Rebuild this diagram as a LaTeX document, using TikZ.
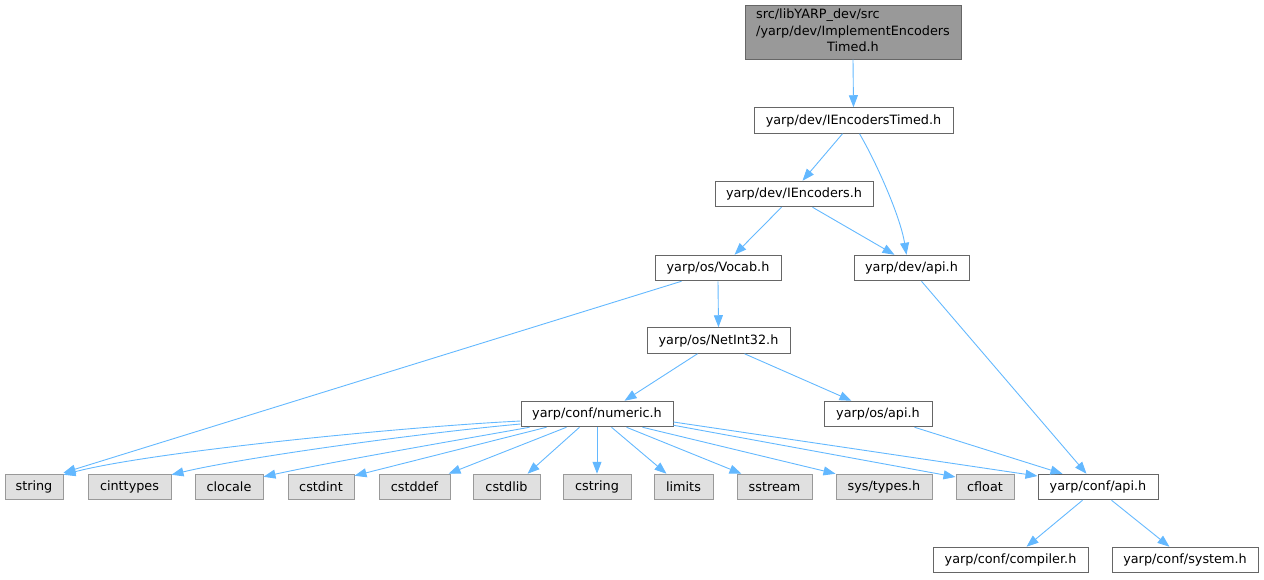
\documentclass[tikz,border=0pt]{standalone}
\usepackage{fontspec}
\setmainfont{DejaVu Sans}
\usetikzlibrary{arrows.meta,calc}
\definecolor{edgeblue}{HTML}{63B8FF}
\definecolor{boxline}{HTML}{666666}
\definecolor{leafline}{HTML}{999999}
\definecolor{leaffill}{HTML}{E0E0E0}
\definecolor{topfill}{HTML}{999999}
\begin{document}
\begin{tikzpicture}[x=1pt,y=-1pt,
  every node/.style={font=\fontsize{12.8}{15}\selectfont},
  hbox/.style={draw=boxline, fill=white, line width=1pt, inner sep=0pt, minimum height=25.5pt},
  leaf/.style={draw=leafline, fill=leaffill, line width=1pt, inner sep=0pt, minimum height=25.5pt},
  topbox/.style={draw=boxline, fill=topfill, line width=1pt, inner sep=0pt, minimum height=54pt, minimum width=216pt},
  dep/.style={draw=edgeblue, line width=0.9pt, -{Triangle[length=12pt,width=9pt]}}
]
\useasboundingbox (0,0) rectangle (1264,579);

\node[topbox, font=\fontsize{12.8}{16.5}\selectfont] (top) at (853,32) {\begin{tabular}{@{}l@{}}src/libYARP\_dev/src\\/yarp/dev/ImplementEncoders\\\multicolumn{1}{@{}c@{}}{Timed.h}\end{tabular}};
\node[hbox, minimum width=199pt] (iet) at (853.5,120.5) {yarp/dev/IEncodersTimed.h};
\node[hbox, minimum width=158pt] (ie) at (794,194) {yarp/dev/IEncoders.h};
\node[hbox, minimum width=126pt] (vocab) at (718,268) {yarp/os/Vocab.h};
\node[hbox, minimum width=115pt] (devapi) at (911.5,268) {yarp/dev/api.h};
\node[hbox, minimum width=143pt] (netint) at (718.5,340.5) {yarp/os/NetInt32.h};
\node[hbox, minimum width=152pt] (numeric) at (597,414) {yarp/conf/numeric.h};
\node[hbox, minimum width=108pt] (osapi) at (878,414) {yarp/os/api.h};

\node[leaf, minimum width=58pt] (string) at (34,487) {string};
\node[leaf, minimum width=83pt] (cinttypes) at (129.5,487) {cinttypes};
\node[leaf, minimum width=68pt] (clocale) at (229,487) {clocale};
\node[leaf, minimum width=66pt] (cstdint) at (321,487) {cstdint};
\node[leaf, minimum width=71pt] (cstddef) at (414.5,487) {cstddef};
\node[leaf, minimum width=67pt] (cstdlib) at (506.5,487) {cstdlib};
\node[leaf, minimum width=68pt] (cstring) at (597,487) {cstring};
\node[leaf, minimum width=59pt] (limits) at (683.5,487) {limits};
\node[leaf, minimum width=75pt] (sstream) at (774.5,487) {sstream};
\node[leaf, minimum width=96pt] (systypes) at (884,487) {sys/types.h};
\node[leaf, minimum width=58pt] (cfloat) at (985,487) {cfloat};
\node[hbox, minimum width=120pt] (confapi) at (1098,487) {yarp/conf/api.h};
\node[hbox, minimum width=155pt] (compiler) at (1010.5,560) {yarp/conf/compiler.h};
\node[hbox, minimum width=146pt] (system) at (1185,560) {yarp/conf/system.h};

% edges
\draw[dep] (top.south) -- (iet.north);
\draw[dep] ($(iet.south west)+(89,0)$) -- ($(ie.north west)+(88,0)$);
\draw[dep] ($(iet.south west)+(106,0)$) .. controls (875,160) and (900,215) .. ($(devapi.north west)+(53,0)$);
\draw[dep] ($(ie.south west)+(67,0)$) -- ($(vocab.north west)+(80,0)$);
\draw[dep] ($(ie.south west)+(98,0)$) -- ($(devapi.north west)+(41,0)$);
\draw[dep] ($(vocab.south west)+(27,0)$) -- ($(string.north east)+(0,-1)$);
\draw[dep] (vocab.south) -- (netint.north);
\draw[dep] ($(devapi.south west)+(68,0)$) -- ($(confapi.north west)+(49,0)$);
\draw[dep] ($(netint.south west)+(51,0)$) -- ($(numeric.north west)+(104,0)$);
\draw[dep] ($(netint.south west)+(98,0)$) -- ($(osapi.north west)+(28,0)$);
\draw[dep] ($(osapi.south west)+(91,0)$) -- ($(confapi.north west)+(25,0)$);

\draw[dep] ($(numeric.west)+(0,7)$) .. controls (400,427) and (150,452) .. ($(string.north east)+(0,1)$);
\draw[dep] ($(numeric.west)+(0,10)$) .. controls (420,433) and (240,458) .. ($(cinttypes.north east)+(0,1)$);
\draw[dep] ($(numeric.south west)+(9,0)$) .. controls (470,438) and (330,462) .. ($(clocale.north east)+(0,3)$);
\draw[dep] ($(numeric.south west)+(26,0)$) -- ($(cstdint.north east)+(0,2)$);
\draw[dep] ($(numeric.south west)+(46,0)$) -- ($(cstddef.north east)+(-2,0)$);
\draw[dep] ($(numeric.south west)+(59,0)$) -- ($(cstdlib.north west)+(55,0)$);
\draw[dep] (numeric.south) -- (cstring.north);
\draw[dep] ($(numeric.south west)+(91,0)$) -- ($(limits.north west)+(13,0)$);
\draw[dep] ($(numeric.south west)+(106,0)$) -- ($(sstream.north west)+(5,0)$);
\draw[dep] ($(numeric.south west)+(122,0)$) -- ($(systypes.north west)+(0,0)$);
\draw[dep] ($(numeric.south east)+(0,-2)$) -- ($(cfloat.west)+(0,-10)$);
\draw[dep] ($(numeric.east)+(0,8)$) -- ($(confapi.west)+(0,-11)$);

\draw[dep] ($(confapi.south west)+(45,0)$) -- ($(compiler.north west)+(94,0)$);
\draw[dep] ($(confapi.south west)+(74,0)$) -- ($(system.north west)+(58,0)$);
\end{tikzpicture}
\end{document}
